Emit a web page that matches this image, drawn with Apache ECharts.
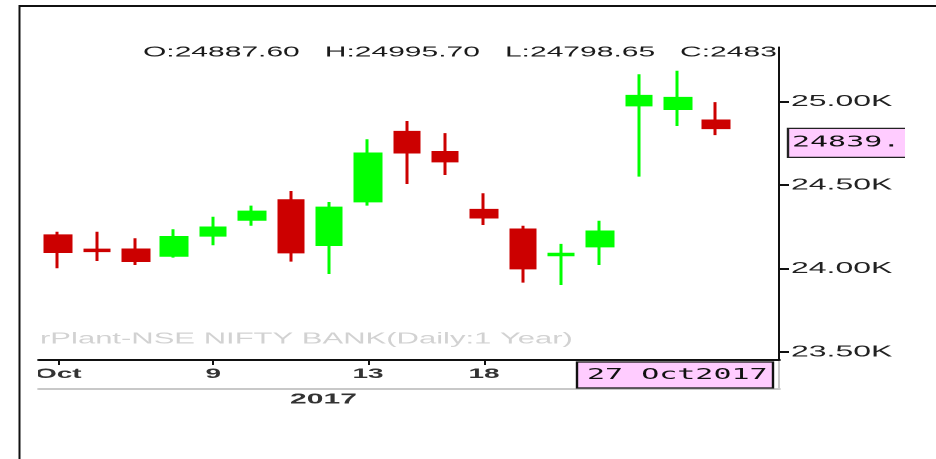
<!DOCTYPE html>
<html><head><meta charset="utf-8">
<script src="https://cdn.jsdelivr.net/npm/echarts@6/dist/echarts.min.js"></script>
<style>
html,body{margin:0;padding:0;background:#fff;overflow:hidden;}
#wrap{width:936px;height:459px;overflow:hidden;position:relative;background:#fff;}
#main{width:468px;height:459px;transform:scaleX(2);transform-origin:0 0;}
</style></head><body>
<div id="wrap"><div id="main"></div></div>
<script>
// ---- data (NSE NIFTY BANK, daily, Oct 2017) ----
const dates  = ['2017-10-03','2017-10-04','2017-10-05','2017-10-06','2017-10-09','2017-10-10','2017-10-11','2017-10-12','2017-10-13',
                '2017-10-16','2017-10-17','2017-10-18','2017-10-19','2017-10-23','2017-10-24','2017-10-25','2017-10-26','2017-10-27'];
const openV  = [24200,24114,24115,24075,24195,24290,24410,24139,24400,24819,24699,24352,24235,24078,24131,24975,24953,24887.60];
const closeV = [24097,24102,24043,24190,24247,24342,24095,24366,24690,24693,24640,24304,23999,24090,24223,25035,25023,24839.00];
const lowV   = [24001,24045,24021,24065,24139,24256,24041,23967,24376,24506,24560,24260,23915,23901,24021,24550,24853,24798.65];
const highV  = [24220,24220,24181,24235,24310,24376,24464,24398,24774,24883,24810,24450,24256,24147,24286,25163,25184,24995.70];
// tick labels
const xTickIdx  = [0,4,8,11];
const xTickText = ['Oct','9','13','18'];
const yTicks    = [23500,24000,24500,25000];
const yearLabel = '2017';
const yearPos   = [6.85];
const monthNames = ['Jan','Feb','Mar','Apr','May','Jun','Jul','Aug','Sep','Oct','Nov','Dec'];
const watermark = 'rPlant-NSE NIFTY BANK(Daily:1 Year)';

// ---- layout (drawn at half width, stretched 2x horizontally) ----
const W = 468, H = 459;
const G = {left:19.5, right:78.5, top:47, bottom:99};
const xMin = -0.5, xMax = 18.62, yMin = 23452, yMax = 25326;

const chart = echarts.init(document.getElementById('main'), null, {renderer:'canvas', devicePixelRatio:2});
const last = dates.length - 1;
const header = 'O:' + openV[last].toFixed(2) + '   H:' + highV[last].toFixed(2) +
               '   L:' + lowV[last].toFixed(2) + '   C:' + closeV[last].toFixed(2);
const FONT = '"Liberation Sans", Arial, sans-serif';

chart.setOption({
  animation:false,
  backgroundColor:'#fff',
  title:[
    {text:header, left:71.5, top:45, padding:0,
     textStyle:{fontFamily:FONT, fontSize:15, fontWeight:'normal', color:'#1a1a1a', width:320, overflow:'truncate', ellipsis:''}},
    {text:watermark, left:20, top:331, padding:0,
     textStyle:{fontFamily:FONT, fontSize:15.5, fontWeight:'normal', color:'#d2d2d2'}}
  ],
  grid:{left:G.left, right:G.right, top:G.top, bottom:G.bottom, containLabel:false},
  xAxis:[
    {type:'value', min:xMin, max:xMax, position:'bottom',
     axisLine:{show:true, onZero:false, lineStyle:{color:'#111', width:2}},
     axisTick:{show:true, customValues:xTickIdx, length:5, lineStyle:{color:'#111', width:1}},
     axisLabel:{show:true, customValues:xTickIdx, margin:7,
       formatter:function(v){ const k = xTickIdx.indexOf(Math.round(v)); return k>=0 ? xTickText[k] : ''; },
       fontFamily:FONT, fontSize:14, fontWeight:'bold', color:'#333'},
     splitLine:{show:false}},
    {type:'value', min:xMin, max:xMax, position:'bottom', offset:29,
     axisLine:{show:true, onZero:false, lineStyle:{color:'#c8c8c8', width:2}},
     axisTick:{show:false},
     axisLabel:{show:true, customValues:yearPos, margin:3, formatter:function(){ return yearLabel; },
       fontFamily:FONT, fontSize:15, fontWeight:'bold', color:'#333'},
     splitLine:{show:false}}
  ],
  yAxis:{type:'value', position:'right', min:yMin, max:yMax, scale:true,
    axisLine:{show:true, onZero:false, lineStyle:{color:'#111', width:1}},
    axisTick:{show:true, customValues:yTicks, length:5, lineStyle:{color:'#111', width:2}},
    axisLabel:{show:true, customValues:yTicks, margin:6,
      formatter:function(v){ return (v/1000).toFixed(2) + 'K'; },
      fontFamily:FONT, fontSize:16, color:'#222'},
    splitLine:{show:false}},
  series:[{
    type:'candlestick',
    xAxisIndex:0, yAxisIndex:0,
    data: dates.map(function(d,i){ return [i, openV[i], closeV[i], lowV[i], highV[i]]; }),
    encode:{x:0, y:[1,2,3,4]},
    barWidth:13,
    itemStyle:{color:'#00ff00', color0:'#cc0000', borderColor:'#00ff00', borderColor0:'#cc0000', borderWidth:1.5}
  }]
});

// annotations: frame, last-price box, date box
const py = chart.convertToPixel({yAxisIndex:0}, closeV[last]);
const plotRight = W - G.right, plotBottom = H - G.bottom;
const dParts = dates[last].split('-');
const dateText = String(+dParts[2]) + ' ' + monthNames[+dParts[1]-1] + dParts[0];
const bx1 = plotRight + 4.5, bx2 = 452.5, bh = 29;
const dbw = 98, dbh = 26;
chart.setOption({graphic:[
  {type:'line', z:100, shape:{x1:9.5, y1:6, x2:W, y2:6}, style:{stroke:'#111', lineWidth:2}},
  {type:'line', z:100, shape:{x1:9.75, y1:5, x2:9.75, y2:H}, style:{stroke:'#111', lineWidth:1}},
  {type:'rect', z:90, shape:{x:10.5, y:plotBottom+2, width:G.left-11, height:24}, style:{fill:'#fff'}},
  {type:'line', z:90, shape:{x1:plotRight, y1:plotBottom+1, x2:plotRight, y2:plotBottom+29}, style:{stroke:'#c8c8c8', lineWidth:1}},
  {type:'rect', z:100, shape:{x:bx1, y:py, width:bx2-bx1, height:bh}, style:{fill:'#ffccff'}},
  {type:'polyline', z:101, shape:{points:[[bx2,py],[bx1,py],[bx1,py+bh],[bx2,py+bh]]}, style:{stroke:'#222', lineWidth:1.2, fill:null}},
  {type:'text', z:102, x:bx1+2, y:py+bh/2, style:{text:closeV[last].toFixed(2).slice(0,6), fontFamily:'"DejaVu Sans Mono", monospace', fontSize:15, fill:'#111', verticalAlign:'middle'}},
  {type:'rect', z:100, shape:{x:plotRight-3-dbw, y:plotBottom+2, width:dbw, height:dbh}, style:{fill:'#ffccff', stroke:'#111', lineWidth:1.2}},
  {type:'text', z:102, x:plotRight-3-dbw+5, y:plotBottom+2+dbh/2, style:{text:dateText, fontFamily:'"DejaVu Sans Mono", monospace', fontSize:15, fill:'#111', verticalAlign:'middle'}}
]});
</script>
</body></html>
